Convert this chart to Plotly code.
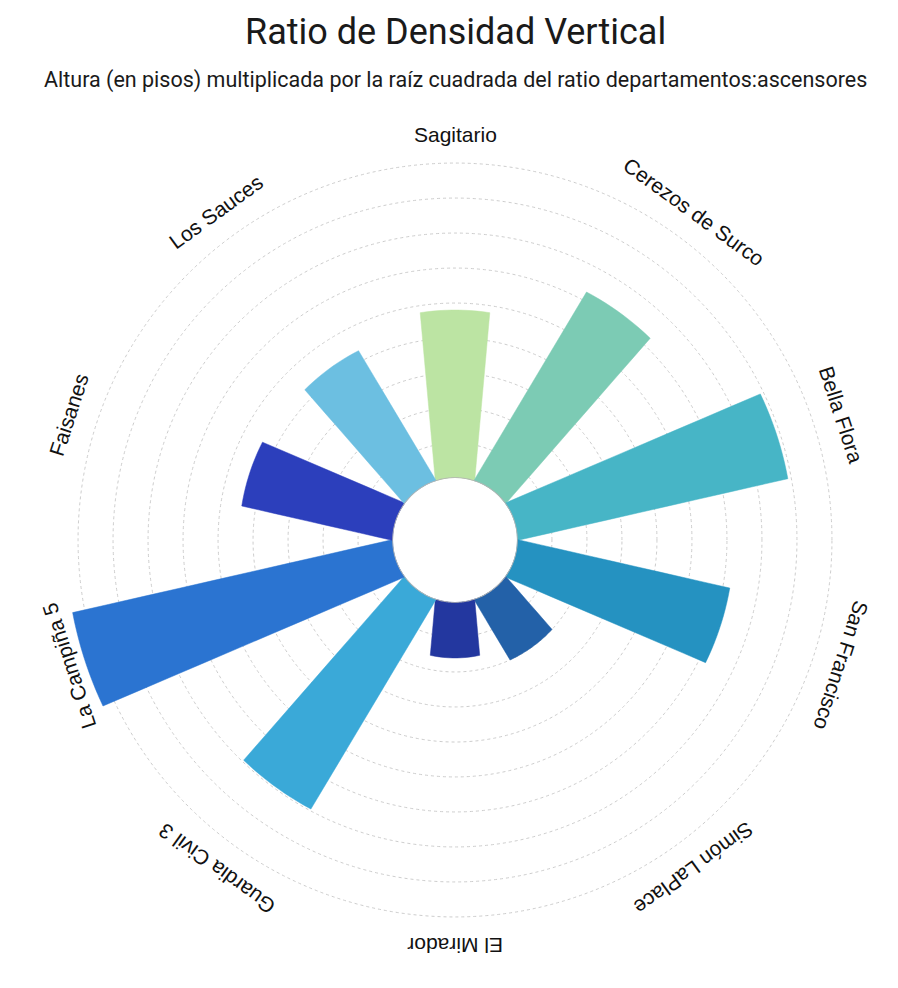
import numpy as np
import plotly.graph_objects as go

# ---- data -------------------------------------------------------------
categories = ["Sagitario", "Cerezos de Surco", "Bella Flora", "San Francisco",
              "Simón LaPlace", "El Mirador", "Guardia Civil 3", "La Campiña 5",
              "Faisanes", "Los Sauces"]
ratios = [48, 62.5, 79, 62, 20, 16, 69.5, 93.5, 44, 43]
colors = ["#bce4a3", "#7ccbb4", "#47b5c6", "#2592c1", "#2361a8",
          "#23379f", "#3aa9d8", "#2b74d1", "#2c3fbc", "#6cbfe1"]

title = "Ratio de Densidad Vertical"
subtitle = "Altura (en pisos) multiplicada por la raíz cuadrada del ratio departamentos:ascensores"

# ---- geometry / style -------------------------------------------------
W, H = 898, 988
CX, CY = 455, 540            # chart centre in px
PX_PER_UNIT = 3.5            # radial scale
HOLE = 17.7                  # inner hole, in value units
R_MAX = 95                   # radial range upper bound
HALF_W0, HALF_W_SLOPE = 4.1, 0.09   # bar half-width = a + b * distance
LABEL_R_PX = 406

r_px = (HOLE + R_MAX) * PX_PER_UNIT
dom_x = [(CX - r_px) / W, (CX + r_px) / W]
dom_y = [1 - (CY + r_px) / H, 1 - (CY - r_px) / H]

step = 360 / len(categories)
angles = [i * step for i in range(len(categories))]


def axial_distance(rho):
    """Distance along the bar axis where a bar edge reaches radius rho."""
    a, b = HALF_W0, HALF_W_SLOPE
    A = 1 + b * b
    B = 2 * a * b
    C = a * a - rho * rho
    return (-B + np.sqrt(B * B - 4 * A * C)) / (2 * A)


def bar_outline(theta_c, value):
    d_in = axial_distance(HOLE)
    d_out = axial_distance(HOLE + value)
    ds = np.linspace(d_in, d_out, 10)
    hw = HALF_W0 + HALF_W_SLOPE * ds
    rho = np.sqrt(ds ** 2 + hw ** 2)
    phi = np.degrees(np.arctan2(hw, ds))
    phi_in, phi_out = phi[0], phi[-1]

    side_r = list(rho - HOLE)
    right_t = list(theta_c + phi)
    left_t = list(theta_c - phi)

    outer_t = list(np.linspace(theta_c + phi_out, theta_c - phi_out, 12))
    inner_t = list(np.linspace(theta_c - phi_in, theta_c + phi_in, 12))

    r = side_r + [value] * 12 + side_r[::-1] + [0] * 12
    t = right_t + outer_t + left_t[::-1] + inner_t
    return r, t


fig = go.Figure()

for name, val, col, ang in zip(categories, ratios, colors, angles):
    r, t = bar_outline(ang, val)
    fig.add_trace(go.Scatterpolar(
        r=r, theta=t, mode="lines", fill="toself",
        fillcolor=col, line=dict(color=col, width=0.5),
        name=name, hoverinfo="text", text=f"{name}: {val}",
        showlegend=False,
    ))

# outline of the central hole
fig.add_trace(go.Scatterpolar(
    r=[0] * 361, theta=list(range(361)), mode="lines",
    line=dict(color="#b4b4b4", width=1.6),
    cliponaxis=False, hoverinfo="skip", showlegend=False,
))

# category labels, set tangentially around the chart
annotations = []
for name, ang in zip(categories, angles):
    rad = np.radians(ang)
    x_px = CX + LABEL_R_PX * np.sin(rad)
    y_px = CY - LABEL_R_PX * np.cos(rad)
    rot = ang if ang <= 180 else ang - 360
    annotations.append(dict(
        x=x_px / W, y=1 - y_px / H, xref="paper", yref="paper",
        text=name, showarrow=False, textangle=rot,
        xanchor="center", yanchor="middle",
        font=dict(family="Liberation Sans, Arial, sans-serif", size=21, color="#111111"),
    ))

annotations.append(dict(
    x=CX / W, y=1 - 32 / H, xref="paper", yref="paper", text=title,
    showarrow=False, xanchor="center", yanchor="middle",
    font=dict(family="Roboto, sans-serif", size=36, color="#1a1a1a"),
))
annotations.append(dict(
    x=CX / W, y=1 - 80 / H, xref="paper", yref="paper", text=subtitle,
    showarrow=False, xanchor="center", yanchor="middle",
    font=dict(family="Roboto, sans-serif", size=21.5, color="#1a1a1a"),
))

fig.update_layout(
    width=W, height=H,
    margin=dict(l=0, r=0, t=0, b=0),
    paper_bgcolor="white",
    plot_bgcolor="white",
    annotations=annotations,
    polar=dict(
        domain=dict(x=dom_x, y=dom_y),
        hole=HOLE / (HOLE + R_MAX),
        bgcolor="white",
        radialaxis=dict(
            range=[0, R_MAX], dtick=10, showticklabels=False, ticks="",
            showline=False, gridcolor="#cdcdcd", gridwidth=1, griddash="3px,3px",
        ),
        angularaxis=dict(
            thetaunit="degrees", rotation=90, direction="clockwise",
            showgrid=False, showline=False, showticklabels=False, ticks="",
        ),
    ),
)

fig.write_html("out.html")
